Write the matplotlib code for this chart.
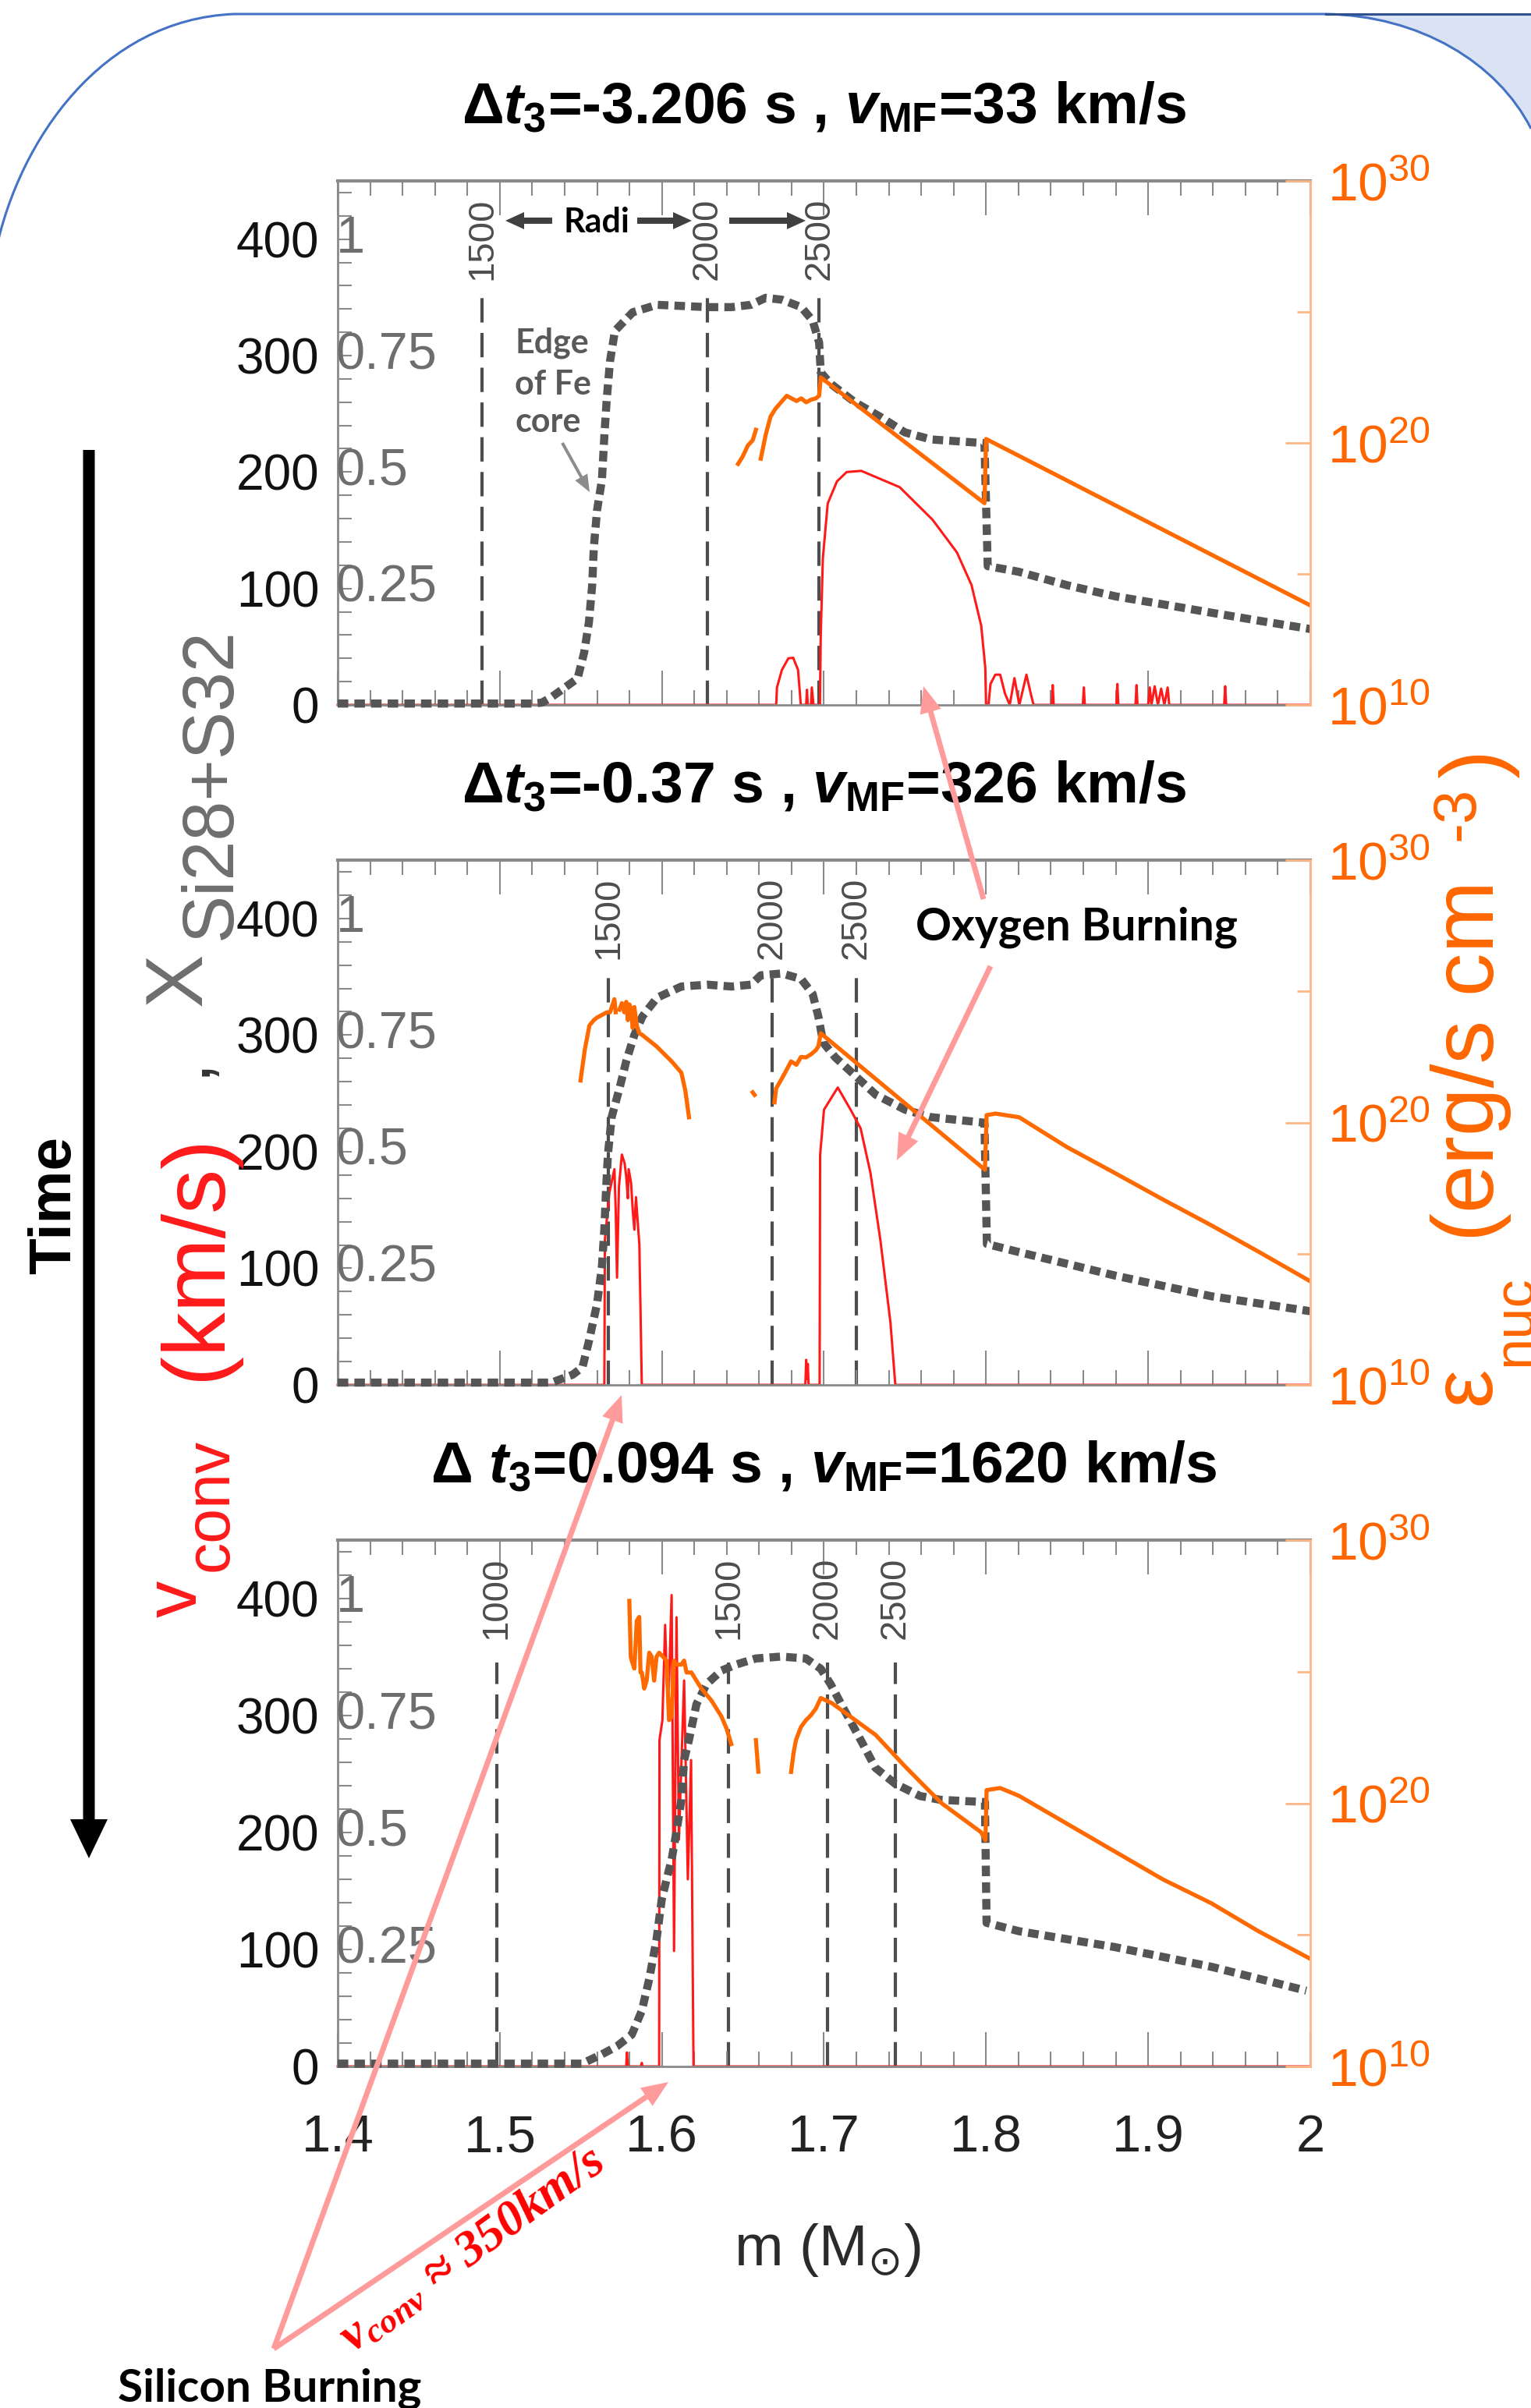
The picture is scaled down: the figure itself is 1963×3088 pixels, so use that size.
import numpy as np
import matplotlib
matplotlib.use("Agg")
import matplotlib.pyplot as plt
from matplotlib.path import Path
from matplotlib.patches import PathPatch
from matplotlib.ticker import FixedLocator, MultipleLocator, NullFormatter

NAN = float("nan")

# ---------------------------------------------------------------- data
M_RANGE = [1.4, 2.0]
V_RANGE = [0, 450]
X_TO_V = 400.0                      # mass fraction 1  <->  400 km/s
V_TICKS = [0, 100, 200, 300, 400]
XFRAC_TICKS = [0.25, 0.5, 0.75, 1.0]
XFRAC_LABELS = ["0.25", "0.5", "0.75", "1"]
M_TICKS = [1.4, 1.5, 1.6, 1.7, 1.8, 1.9, 2.0]
M_TICK_LABELS = ["1.4", "1.5", "1.6", "1.7", "1.8", "1.9", "2"]
EPS_TICKS = [1e10, 1e20, 1e30]
EPS_MINOR = [1e15, 1e25]
EPS_TICK_LABELS = [r"$\mathregular{10^{10}}$", r"$\mathregular{10^{20}}$", r"$\mathregular{10^{30}}$"]

TITLES = [
    r"Δ$\mathit{t}_{\mathregular{3}}$=-3.206 s , $\mathit{v}_{\mathregular{MF}}$=33 km/s",
    r"Δ$\mathit{t}_{\mathregular{3}}$=-0.37 s , $\mathit{v}_{\mathregular{MF}}$=326 km/s",
    r"Δ $\mathit{t}_{\mathregular{3}}$=0.094 s , $\mathit{v}_{\mathregular{MF}}$=1620 km/s",
]

# ---- panel 1 (dt3 = -3.206 s)
p1_X_m = [1.400, 1.520, 1.526, 1.532, 1.540, 1.548, 1.552, 1.555, 1.557, 1.558, 1.560, 1.563, 1.5645,
          1.566, 1.568, 1.571, 1.582, 1.597, 1.628, 1.643, 1.655, 1.664, 1.674, 1.686, 1.693, 1.697,
          1.698, 1.704, 1.719, 1.735, 1.750, 1.766, 1.799, 1.801, 1.820, 1.850, 1.880, 1.909, 1.939,
          1.968, 2.000]
p1_X = [0.003, 0.003, 0.005, 0.017, 0.037, 0.057, 0.112, 0.178, 0.258, 0.338, 0.418, 0.483, 0.578,
        0.658, 0.738, 0.803, 0.843, 0.859, 0.854, 0.854, 0.859, 0.874, 0.870, 0.854, 0.825, 0.778,
        0.714, 0.690, 0.650, 0.618, 0.585, 0.570, 0.562, 0.298, 0.286, 0.257, 0.233, 0.216, 0.198,
        0.181, 0.163]
p1_eps_m = [1.647, 1.650, 1.653, 1.656, 1.658, NAN, 1.661, 1.664, 1.667, 1.670, 1.6735, 1.677, 1.680,
            1.683, 1.686, 1.689, 1.692, 1.695, 1.697, 1.698, 1.799, 1.800, 2.000]
p1_eps_log = [19.2, 19.5, 19.9, 20.1, 20.5, NAN, 19.4, 20.3, 21.0, 21.3, 21.55, 21.8, 21.7,
              21.6, 21.7, 21.55, 21.65, 21.7, 21.8, 22.5, 17.7, 20.15, 13.8]
p1_v_m = [1.400, 1.6705, 1.671, 1.674, 1.678, 1.681, 1.684, 1.6857, 1.689, 1.6895, 1.690, 1.692,
          1.6925, 1.6935, 1.6975, 1.698, 1.6993, 1.7023, 1.708, 1.714, 1.723, 1.7467, 1.767, 1.782,
          1.791, 1.797, 1.7995, 1.8000, 1.8015, 1.8027, 1.8057, 1.8087, 1.8116, 1.8146, 1.8175,
          1.8205, 1.8249, 1.8275, 1.8293, 1.8405, 1.8411, 1.8417, 1.8597, 1.8603, 1.8609, 1.8804,
          1.881, 1.8816, 1.8922, 1.8928, 1.8934, 1.9000, 1.9010, 1.9020, 1.9040, 1.9060, 1.9080,
          1.9100, 1.9120, 1.9130, 1.9469, 1.9475, 1.9481, 2.000]
p1_v = [0, 0, 15, 30, 40, 40.5, 30, 0, 0, 13, 0, 0,
        15, 0, 0, 60, 126, 173, 192, 200, 201, 187, 159, 131,
        103, 68, 32, 0, 0, 18, 26, 26, 10, 0, 23,
        0, 26, 10, 0, 0, 17, 0, 0, 15, 0, 0,
        18, 0, 0, 17, 0, 0, 15, 0, 16, 0, 14,
        0, 15, 0, 0, 16, 0, 0]
p1_r_m = [1.489, 1.628, 1.697]
p1_r_lbl = ["1500", "2000", "2500"]

# ---- panel 2 (dt3 = -0.37 s)
p2_X_m = [1.400, 1.532, 1.545, 1.551, 1.555, 1.560, 1.563, 1.5645, 1.5655, 1.5667, 1.569, 1.574,
          1.578, 1.583, 1.588, 1.597, 1.612, 1.628, 1.643, 1.655, 1.661, 1.674, 1.686, 1.693,
          1.6965, 1.6995, 1.707, 1.7195, 1.732, 1.750, 1.766, 1.799, 1.8005, 1.820, 1.880, 1.939,
          2.000]
p2_X = [0.005, 0.005, 0.022, 0.038, 0.094, 0.174, 0.254, 0.334, 0.414, 0.494, 0.574, 0.638,
        0.694, 0.750, 0.790, 0.830, 0.854, 0.858, 0.854, 0.858, 0.878, 0.882, 0.870, 0.838,
        0.790, 0.734, 0.702, 0.662, 0.622, 0.590, 0.574, 0.562, 0.302, 0.285, 0.234, 0.190,
        0.158]
p2_eps_m = [1.5498, 1.5525, 1.5553, 1.558, 1.560, 1.563, 1.566, 1.568, 1.5707, 1.5715, NAN,
            1.5738, 1.5753, 1.5768, 1.578, 1.579, 1.580, 1.581, 1.582, 1.583, 1.5845, 1.586,
            1.5876, 1.5967, 1.606, 1.612, 1.6145, 1.6167, NAN, 1.6560, 1.6572, NAN,
            1.6695, 1.6705, 1.6735, 1.676, 1.6797, 1.683, 1.6858, 1.6888, 1.692, 1.695, 1.6965,
            1.698, 1.7993, 1.8003, 1.8058, 1.8204, 1.850, 1.8796, 1.909, 1.939, 1.968, 2.000]
p2_eps_log = [21.6, 22.8, 23.7, 23.9, 24.0, 24.1, 24.2, 24.2, 24.7, 24.2, NAN,
              24.3, 24.55, 24.2, 24.6, 23.9, 24.5, 24.3, 23.6, 24.4, 23.7, 23.4,
              23.35, 22.9, 22.33, 21.9, 21.2, 20.2, NAN, 21.15, 21.05, NAN,
              20.77, 21.3, 21.62, 21.9, 22.33, 22.2, 22.5, 22.48, 22.6, 22.76, 22.9,
              23.4, 18.2, 20.28, 20.34, 20.2, 19.06, 18.07, 17.07, 16.08, 15.08, 13.95]
p2_v_m = [1.400, 1.5645, 1.5648, 1.5676, 1.5707, 1.5715, 1.5723, 1.5735, 1.5753, 1.577, 1.578,
          1.579, 1.5795, 1.581, 1.582, 1.583, 1.584, 1.5861, 1.5876, 1.6885, 1.689, 1.6895,
          1.690, 1.6905, 1.6973, 1.6976, 1.700, 1.7085, 1.7164, 1.7226, 1.7287, 1.7348, 1.741,
          1.744, 2.000]
p2_v = [0, 0, 124, 165, 185, 150, 92, 170, 197.5, 190, 178.5,
        160, 185, 173, 150, 133, 161, 120, 0, 0, 21.5, 5,
        18, 0, 0, 197, 236, 255, 236, 220, 181.5, 124, 53.5,
        0, 0]
p2_r_m = [1.567, 1.668, 1.720]
p2_r_lbl = ["1500", "2000", "2500"]

# ---- panel 3 (dt3 = 0.094 s)
p3_X_m = [1.400, 1.5507, 1.563, 1.5722, 1.5814, 1.5876, 1.5922, 1.5967, 1.5999, 1.6029, 1.606,
          1.609, 1.612, 1.6137, 1.6167, 1.6213, 1.6275, 1.6367, 1.6458, 1.658, 1.6735, 1.6888,
          1.698, 1.7041, 1.7133, 1.7226, 1.7318, 1.744, 1.7593, 1.7716, 1.7993, 1.8003, 1.8204,
          1.8796, 1.939, 1.9975]
p3_X = [0.006, 0.006, 0.026, 0.043, 0.068, 0.119, 0.187, 0.272, 0.357, 0.400, 0.442,
        0.502, 0.570, 0.655, 0.698, 0.774, 0.817, 0.846, 0.859, 0.872, 0.876, 0.872,
        0.850, 0.817, 0.757, 0.698, 0.638, 0.604, 0.578, 0.570, 0.565, 0.307, 0.289,
        0.255, 0.213, 0.162]
p3_eps_m = [1.5799, 1.5808, 1.5814, 1.583, 1.5845, 1.586, 1.5868, 1.5876, 1.5891, 1.5906,
            1.5922, 1.5937, 1.5952, 1.5967, 1.5983, 1.6029, 1.6044, 1.606, 1.6075, 1.609,
            1.612, 1.6137, 1.6152, 1.6182, 1.6213, 1.6244, 1.6305, 1.6367, 1.6398, 1.6428, NAN,
            1.658, 1.6595, NAN,
            1.6797, 1.6812, 1.6827, 1.6858, 1.6888, 1.692, 1.695, 1.698, 1.705, 1.7195,
            1.7318, 1.750, 1.7612, 1.7726, 1.7969, 1.7996, 1.8003, 1.8087, 1.8204, 1.850,
            1.8796, 1.909, 1.939, 1.968, 2.000]
p3_eps_log = [27.69, 25.57, 25.42, 25.12, 26.93, 27.08, 24.97, 24.97, 24.36, 24.66,
              25.72, 25.57, 24.66, 25.57, 25.72, 25.42, 23.16, 23.30, 25.42, 25.27,
              25.27, 25.42, 24.97, 24.97, 24.66, 24.36, 23.91, 23.30, 22.85, 22.25, NAN,
              22.4, 21.2, NAN,
              21.19, 21.9, 22.4, 22.9, 23.15, 23.35, 23.6, 24.0, 23.8, 23.15,
              22.6, 21.4, 20.7, 20.0, 18.9, 18.6, 20.5, 20.58, 20.28, 19.22,
              18.16, 17.11, 16.2, 15.14, 14.09]
p3_v_m = [1.400, 1.578, 1.5784, 1.579, 1.587, 1.5876, 1.588, 1.5983, 1.5985, 1.6003, 1.602,
          1.603, 1.604, 1.606, 1.6075, 1.609, 1.6105, 1.6137, 1.616, 1.618, 1.6195, 2.000]
p3_v = [0, 0, 12, 0, 0, 3, 0, 0, 279, 296, 377.5,
        330, 310, 403, 98.7, 384, 194, 330, 160, 262, 0, 0]
p3_r_m = [1.498, 1.641, 1.702, 1.744]
p3_r_lbl = ["1000", "1500", "2000", "2500"]

# ---------------------------------------------------------------- style
SANS = ["Liberation Sans", "DejaVu Sans"]
HUMAN = ["Lato", "Open Sans", "DejaVu Sans"]
SERIF = ["Liberation Serif", "DejaVu Serif"]

plt.rcParams["font.family"] = SANS
plt.rcParams["mathtext.fontset"] = "custom"
plt.rcParams["mathtext.rm"] = "Liberation Sans:bold"
plt.rcParams["mathtext.it"] = "Liberation Sans:italic:bold"
plt.rcParams["mathtext.bf"] = "Liberation Sans:bold"

RED = "#ff1a1a"
ORANGE = "#ff6a00"
ORANGE_LBL = "#ff6600"
ORANGE_AX = "#ffb585"
GRAYDOT = "#555555"
DASH = "#4d4d4d"
AXGRAY = "#8a8a8a"
PINK = "#ff9b9b"
XGRAY = "#6e6e6e"

FIG_W, FIG_H = 1963, 3088
fig = plt.figure(figsize=(FIG_W / 100, FIG_H / 100), dpi=100)
fig.patch.set_facecolor("white")

AX_L, AX_R = 433, 1680
panels = [
    dict(top=232, bot=904, title=TITLES[0], Xm=p1_X_m, X=p1_X, em=p1_eps_m, elog=p1_eps_log,
         vm=p1_v_m, v=p1_v, rm=p1_r_m, rl=p1_r_lbl, rtop=0.78),
    dict(top=1103, bot=1776, title=TITLES[1], Xm=p2_X_m, X=p2_X, em=p2_eps_m, elog=p2_eps_log,
         vm=p2_v_m, v=p2_v, rm=p2_r_m, rl=p2_r_lbl, rtop=0.795),
    dict(top=1975, bot=2650, title=TITLES[2], Xm=p3_X_m, X=p3_X, em=p3_eps_m, elog=p3_eps_log,
         vm=p3_v_m, v=p3_v, rm=p3_r_m, rl=p3_r_lbl, rtop=0.767),
]

for i, P in enumerate(panels):
    rect = [AX_L / FIG_W, 1 - P["bot"] / FIG_H, (AX_R - AX_L) / FIG_W, (P["bot"] - P["top"]) / FIG_H]
    ax = fig.add_axes(rect)
    ax.set_xlim(*M_RANGE)
    ax.set_ylim(*V_RANGE)
    ax.patch.set_alpha(0)

    for m, lab in zip(P["rm"], P["rl"]):
        ax.axvline(m, ymin=0, ymax=P["rtop"], color=DASH, lw=3, ls=(0, (7.5, 3.2)), zorder=1)
        ax.text(m, 0.968, lab, transform=ax.get_xaxis_transform(), rotation=90, ha="center",
                va="top", fontsize=34, color="#4d4d4d")

    ax.plot(P["vm"], P["v"], color=RED, lw=2.2, zorder=2, clip_on=False)
    ax.plot(P["Xm"], np.array(P["X"]) * X_TO_V, color=GRAYDOT, lw=7.5, ls=(0, (1.3, 0.75)),
            dash_capstyle="butt", zorder=3, clip_on=False)

    # left axis (v_conv) ticks + labels
    ax.yaxis.set_major_locator(FixedLocator(V_TICKS))
    ax.set_yticklabels([str(t) for t in V_TICKS])
    ax.yaxis.set_minor_locator(MultipleLocator(20))
    ax.tick_params(axis="y", which="both", direction="in", left=True, right=False,
                   color=AXGRAY, width=1.5, length=13)
    ax.tick_params(axis="y", which="major", labelsize=46, labelcolor="#111111", pad=17)
    for val, lab in zip(XFRAC_TICKS, XFRAC_LABELS):
        ax.text(-0.002, val * X_TO_V, lab, transform=ax.get_yaxis_transform(), ha="left",
                va="center", fontsize=48, color=XGRAY, zorder=5)

    ax.xaxis.set_major_locator(FixedLocator(M_TICKS))
    ax.xaxis.set_minor_locator(MultipleLocator(0.02))
    ax.tick_params(axis="x", which="both", direction="in", top=True, bottom=True,
                   color=AXGRAY, width=1.5)
    ax.tick_params(axis="x", which="major", length=32)
    ax.tick_params(axis="x", which="minor", length=14)
    if i == 2:
        ax.set_xticklabels(M_TICK_LABELS)
        ax.tick_params(axis="x", labelsize=48, labelcolor="#222222", pad=44)
    else:
        ax.tick_params(axis="x", labelbottom=False)

    for s in ["left", "bottom", "top"]:
        ax.spines[s].set_color(AXGRAY)
        ax.spines[s].set_linewidth(2)
    ax.spines["top"].set_linewidth(3)
    ax.spines["right"].set_visible(False)

    # right axis (eps_nuc, log)
    ax2 = ax.twinx()
    ax2.set_yscale("log")
    ax2.set_ylim(1e10, 1e30)
    ax2.plot(P["em"], 10.0 ** np.array(P["elog"]), color=ORANGE, lw=3.8)
    ax2.yaxis.set_major_locator(FixedLocator(EPS_TICKS))
    ax2.set_yticklabels(EPS_TICK_LABELS)
    ax2.yaxis.set_minor_locator(FixedLocator(EPS_MINOR))
    ax2.yaxis.set_minor_formatter(NullFormatter())
    ax2.tick_params(axis="y", which="both", direction="in", color=ORANGE_AX, width=2)
    ax2.tick_params(axis="y", which="major", length=23, labelsize=50, labelcolor=ORANGE_LBL, pad=16)
    ax2.tick_params(axis="y", which="minor", length=12)
    for s in ["left", "bottom", "top"]:
        ax2.spines[s].set_visible(False)
    ax2.spines["right"].set_color(ORANGE_AX)
    ax2.spines["right"].set_linewidth(2)

    ax.text(0.5, 1.11, P["title"], transform=ax.transAxes, ha="center", va="baseline",
            fontsize=54, fontweight="bold", color="black", math_fontfamily="custom")

# ---------------------------------------------------------------- overlay (pixel coords)
ov = fig.add_axes([0, 0, 1, 1], zorder=10)
ov.set_xlim(0, FIG_W)
ov.set_ylim(FIG_H, 0)
ov.axis("off")

# slide border
fill = Path([(1700, 18), (1820, 20), (1920, 80), (1963, 165), (1963, 18), (1700, 18)],
            [Path.MOVETO, Path.CURVE4, Path.CURVE4, Path.CURVE4, Path.LINETO, Path.CLOSEPOLY])
ov.add_patch(PathPatch(fill, facecolor="#dae3f3", edgecolor="none"))
border = Path([(-5, 320), (25, 180), (130, 25), (300, 18), (1700, 18), (1820, 20), (1920, 80),
               (1963, 165)],
              [Path.MOVETO, Path.CURVE4, Path.CURVE4, Path.CURVE4, Path.LINETO, Path.CURVE4,
               Path.CURVE4, Path.CURVE4])
ov.add_patch(PathPatch(border, facecolor="none", edgecolor="#4472c4", lw=2.2))
ov.plot([1700, 1963], [18, 18], color="#2f528f", lw=2.2)

# x-axis label
ov.text(1061, 2905, r"m (M$_{\odot}$)", ha="center", va="baseline", fontsize=54,
        color="#2b2b2b", math_fontfamily="dejavusans")

# left rotated label pieces
kw = dict(rotation=90, rotation_mode="anchor", ha="left", va="baseline")
ov.text(252, 2074, "v", fontsize=68, color=RED, **kw)
ov.text(292, 2015, "conv", fontsize=58, color=RED, **kw)
ov.text(282, 1770, "(km/s)", fontsize=82, color=RED, **kw)
ov.text(262, 1380, ",", fontsize=66, color="#333333", **kw)
ov.text(258, 1290, "X", fontsize=74, color=XGRAY, **kw)
ov.text(296, 1205, "Si28+S32", fontsize=66, color=XGRAY, **kw)

# right rotated label pieces
ov.text(1910, 1802, "ε", fontsize=80, color=ORANGE_LBL, **kw)
ov.text(1963, 1752, "nuc", fontsize=52, color=ORANGE_LBL, **kw)
ov.text(1915, 1592, "(erg/s cm", fontsize=80, color=ORANGE_LBL, **kw)
ov.text(1890, 1078, "-3", fontsize=56, color=ORANGE_LBL, **kw)
ov.text(1925, 998, ")", fontsize=80, color=ORANGE_LBL, **kw)

# Time arrow
ov.arrow(114, 577, 0, 2383 - 577, width=15, head_width=48, head_length=50,
         length_includes_head=True, fc="black", ec="none")
ov.text(90, 1545, "Time", rotation=90, rotation_mode="anchor", ha="center", va="baseline",
        fontsize=55, fontweight="bold", color="black")

# Radi annotation
ov.text(765, 298, "Radi", ha="center", va="baseline", fontsize=31, fontweight="bold",
        family=HUMAN, color="black")
for x0, x1 in [(708, 648), (817, 887), (935, 1033)]:
    ov.arrow(x0, 283, x1 - x0, 0, width=8, head_width=22, head_length=24,
             length_includes_head=True, fc="#404040", ec="none")

# Edge of Fe core
for txt, yb in [("Edge", 453), ("of Fe", 506), ("core", 554)]:
    ov.text(660, yb, txt, ha="left", va="baseline", fontsize=31, fontweight="bold",
            family=HUMAN, color="#595959")
ov.arrow(721, 568, 756 - 721, 631 - 568, width=4, head_width=18, head_length=22,
         length_includes_head=True, fc="#8c8c8c", ec="none")

# Oxygen burning
ov.text(1380, 1205, "Oxygen Burning", ha="center", va="baseline", fontsize=41,
        fontweight="bold", family=HUMAN, color="black")
for (x0, y0), (x1, y1) in [((1261, 1153), (1184, 880)), ((1270, 1239), (1150, 1488))]:
    ov.arrow(x0, y0, x1 - x0, y1 - y0, width=7, head_width=28, head_length=34,
             length_includes_head=True, fc=PINK, ec="none")

# Silicon burning
ov.text(346, 3080, "Silicon Burning", ha="center", va="baseline", fontsize=42,
        fontweight="bold", family=HUMAN, color="black")
for (x1, y1) in [(797, 1789), (857, 2670)]:
    ov.arrow(351, 3012, x1 - 351, y1 - 3012, width=7, head_width=28, head_length=34,
             length_includes_head=True, fc=PINK, ec="none")
ov.text(606, 2886, r"$\mathregular{v_{conv}}$ ≈ 350km/s", rotation=36, ha="center",
        va="center", fontsize=46, color="#ff0000", family=SERIF,
        style="italic", fontweight="bold")

fig.savefig("out.png", dpi=100)
